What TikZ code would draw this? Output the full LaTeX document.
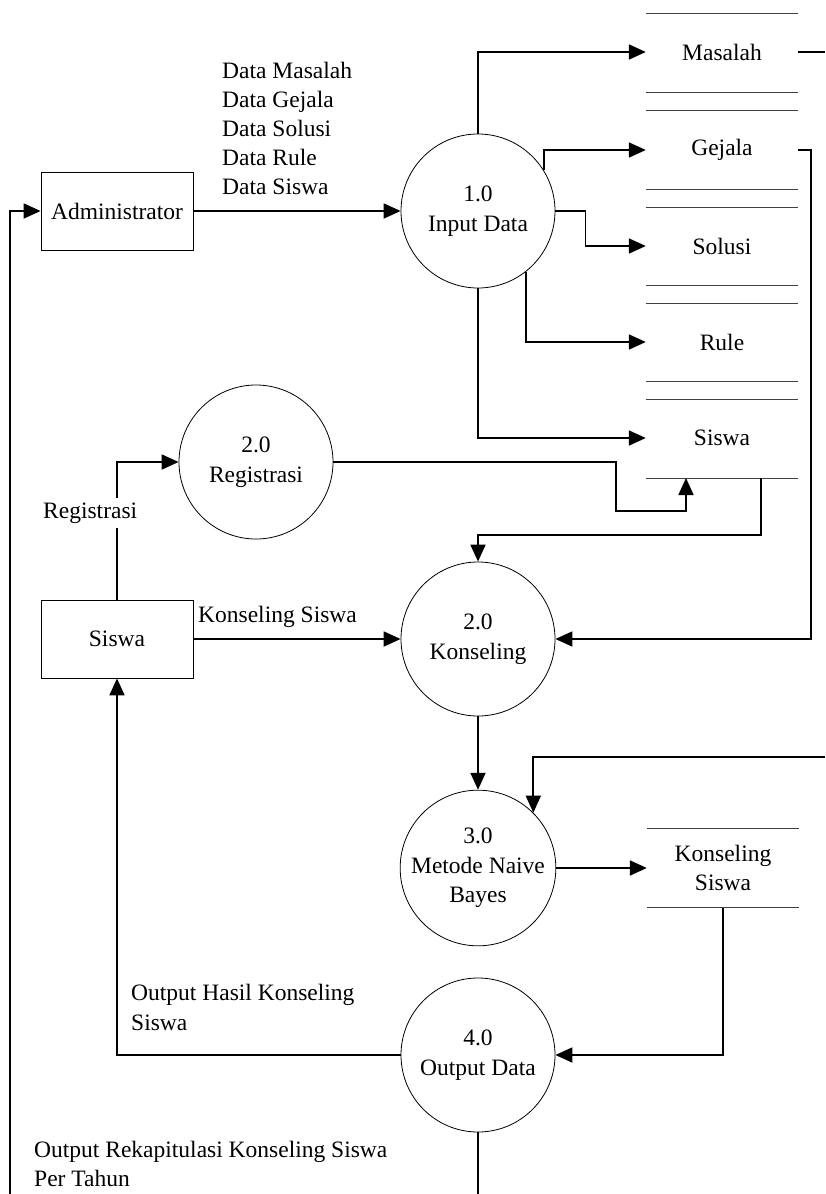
\documentclass[tikz,border=0pt]{standalone}
\usepackage{fontspec}
\setmainfont{Liberation Serif}
\usetikzlibrary{arrows.meta,calc}
\begin{document}
\begin{tikzpicture}[x=1pt,y=-1pt,
  every node/.style={font=\fontsize{23.5}{29.5}\selectfont, inner sep=0pt},
  proc/.style={draw, line width=0.8pt, circle, minimum size=154pt, align=center},
  entity/.style={draw, line width=0.8pt, rectangle, minimum width=152pt, minimum height=78pt},
  store/.style={rectangle, minimum width=152pt, minimum height=40pt, align=center},
  storeline/.style={line width=0.8pt, black!75},
  flow/.style={line width=1.8pt, -{Triangle[length=17pt,width=15pt]}},
  wire/.style={line width=1.8pt},
  lbl/.style={align=left, anchor=west}]
\useasboundingbox (0,0) rectangle (825,1194);

% external entities
\node[entity] (admin) at (117,211) {Administrator};
\node[entity] (siswa) at (117,639) {Siswa};

% processes
\node[proc] (p1)   at (478,211)  {1.0\\Input Data};
\node[proc] (reg)  at (256,462)  {2.0\\Registrasi};
\node[proc] (kons) at (478,639)  {2.0\\Konseling};
\node[proc] (nb)   at (478,868)  {3.0\\Metode Naive\\Bayes};
\node[proc] (out)  at (478,1055) {4.0\\Output Data};

% data stores
\node[store] (masalah) at (722,52)  {Masalah};
\node[store] (gejala)  at (722,150) {Gejala};
\node[store] (solusi)  at (722,246) {Solusi};
\node[store] (rule)    at (722,342) {Rule};
\node[store] (sds)     at (722,438) {Siswa};
\node[store, minimum height=79pt] (ks) at (723,868) {Konseling\\Siswa};

\foreach \yy in {13,92,110,189,207,285,303,381,399,478}
  \draw[storeline] (646,\yy) -- (798,\yy);
\draw[storeline] (647,828) -- (799,828);
\draw[storeline] (647,907) -- (799,907);

% helper points
\coordinate (sdsin)  at (686,478);
\coordinate (sdsout) at (761,478);
\coordinate (rightA) at (825,52);
\coordinate (rightB) at (825,757);
\coordinate (botA)   at (478,1194);
\coordinate (botB)   at (10,1194);

% flow labels
\node[lbl, font=\fontsize{23.5}{29}\selectfont] (datalbl) at (222,128.5)
  {Data Masalah\\Data Gejala\\Data Solusi\\Data Rule\\Data Siswa};
\node[lbl, fill=white, inner sep=2pt] (reglbl) at (41,513) {Registrasi};
\node[lbl] (kslbl) at (198,617) {Konseling Siswa};
\node[lbl, font=\fontsize{23.5}{30}\selectfont] (ohlbl) at (131,1007)
  {Output Hasil Konseling\\Siswa};
\node[lbl, font=\fontsize{23.5}{28.5}\selectfont] (orlbl) at (34,1164)
  {Output Rekapitulasi Konseling Siswa\\Per Tahun};

% flows
\draw[flow] (admin.east) -- (p1.west);
\draw[flow] (p1.north) |- (masalah.west);
\draw[flow] (p1.32) |- (gejala.west);
\draw[flow] (p1.east) -- ++(30,0) |- (solusi.west);
\draw[flow] (p1.-52) |- (rule.west);
\draw[flow] (p1.south) |- (sds.west);

\draw[wire] (siswa.north) -- (117,528);
\draw[flow] (117,498) |- (reg.west);
\draw[flow] (reg.east) -- (616,462) -- (616,511) -| (sdsin);
\draw[flow] (sdsout) -- (761,535) -| (kons.north);

\draw[flow] (gejala.east) -- ++(13,0) |- (kons.east);
\draw[flow] (siswa.east |- kons.west) -- (kons.west);
\draw[flow] (kons.south) -- (nb.north);

\draw[wire] (masalah.east) -- (rightA);
\draw[flow] (rightB) -| (nb.45);
\draw[flow] (nb.east) -- (ks.west);
\draw[flow] (ks.south) |- (out.east);
\draw[flow] (out.west) -| (siswa.south);

\draw[wire] (out.south) -- (botA);
\draw[flow] (botB) |- (admin.west);
\end{tikzpicture}
\end{document}
